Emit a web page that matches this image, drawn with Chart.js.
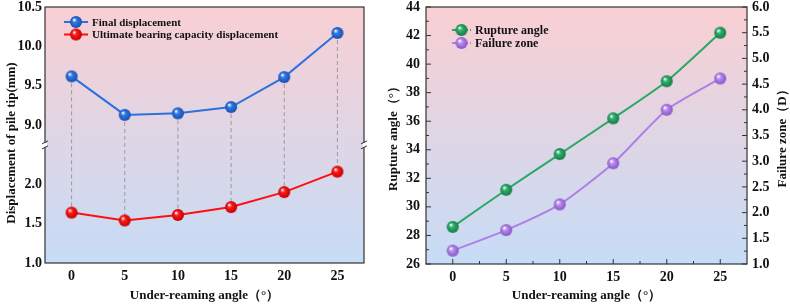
<!DOCTYPE html>
<html>
<head>
<meta charset="utf-8">
<script src="https://cdn.jsdelivr.net/npm/chart.js@4.4.0/dist/chart.umd.min.js"></script>
<style>
  html, body { margin: 0; padding: 0; background: #fff; }
  #wrap { position: relative; width: 790px; height: 305px; }
  #dispChart { position: absolute; left: 0; top: 0; }
  #ruptureChart { position: absolute; left: 380px; top: 0; }
</style>
</head>
<body>
<div id="wrap">
  <canvas id="dispChart" width="380" height="305"></canvas>
  <canvas id="ruptureChart" width="410" height="305"></canvas>
</div>
<script>
// data
const angles = [0, 5, 10, 15, 20, 25];
const finalDisp = [9.62, 9.13, 9.15, 9.23, 9.61, 10.17];
const ultimateDisp = [1.64, 1.54, 1.61, 1.71, 1.90, 2.16];
const ruptureAngle = [28.6, 31.2, 33.7, 36.2, 38.8, 42.2];
const failureZone = [1.26, 1.66, 2.16, 2.96, 4.0, 4.61];

const upperTicks = [9.0, 9.5, 10.0, 10.5];
const lowerTicks = [1.0, 1.5, 2.0];
const angleTicks = [0, 5, 10, 15, 20, 25];
const ruptureTicks = [26, 28, 30, 32, 34, 36, 38, 40, 42, 44];
const zoneTicks = [1.0, 1.5, 2.0, 2.5, 3.0, 3.5, 4.0, 4.5, 5.0, 5.5, 6.0];

const FONT = "'Liberation Serif', 'Times New Roman', serif";
const tickFont = { family: FONT, size: 14, weight: "bold" };
const titleFont = { family: FONT, size: 13, weight: "bold" };

const pts = (vals) => angles.map((a, i) => ({ x: a, y: vals[i] }));

// glossy ball markers
function sphere(color, dark, r) {
  const c = document.createElement("canvas");
  const s = r * 2 + 2;
  c.width = s; c.height = s;
  const g = c.getContext("2d");
  const grad = g.createRadialGradient(s / 2 - r * 0.35, s / 2 - r * 0.4, r * 0.05, s / 2, s / 2, r);
  grad.addColorStop(0, "#ffffff");
  grad.addColorStop(0.35, color);
  grad.addColorStop(1, dark);
  g.fillStyle = grad;
  g.beginPath();
  g.arc(s / 2, s / 2, r, 0, Math.PI * 2);
  g.fill();
  return c;
}

const blueBall = sphere("#2f78e6", "#1a4db0", 6);
const redBall = sphere("#ff1a1a", "#c00000", 6);
const greenBall = sphere("#2fb06f", "#167a44", 6);
const purpleBall = sphere("#b98ceb", "#8654c8", 6);

// chart area gradient + frame
const backdrop = {
  id: "backdrop",
  beforeDatasetsDraw(chart) {
    const { ctx, chartArea: a } = chart;
    const grad = ctx.createLinearGradient(0, a.top, 0, a.bottom);
    grad.addColorStop(0, "#f9cfd3");
    grad.addColorStop(1, "#c6dcf6");
    ctx.save();
    ctx.fillStyle = grad;
    ctx.fillRect(a.left, a.top, a.right - a.left, a.bottom - a.top);
    ctx.restore();
  },
  afterDatasetsDraw(chart) {
    const { ctx, chartArea: a } = chart;
    ctx.save();
    ctx.strokeStyle = "#333";
    ctx.lineWidth = 1.2;
    ctx.strokeRect(a.left, a.top, a.right - a.left, a.bottom - a.top);
    ctx.restore();
  }
};

// legend drawn inside the plot
const innerLegend = {
  id: "innerLegend",
  afterDraw(chart, args, opts) {
    const { ctx, chartArea: a } = chart;
    ctx.save();
    ctx.font = "bold " + opts.size + "px " + FONT;
    ctx.textBaseline = "middle";
    chart.data.datasets.forEach((ds, i) => {
      const x = a.left + opts.x;
      const y = a.top + opts.y + i * opts.gap;
      ctx.strokeStyle = ds.borderColor;
      ctx.lineWidth = 2;
      if (opts.dashed) ctx.setLineDash([4, 2]);
      ctx.beginPath();
      ctx.moveTo(x, y);
      ctx.lineTo(x + opts.len, y);
      ctx.stroke();
      ctx.setLineDash([]);
      const img = ds.pointStyle;
      ctx.drawImage(img, x + opts.len / 2 - img.width / 2, y - img.height / 2);
      ctx.fillStyle = "#111";
      ctx.fillText(ds.label, x + opts.len + 4, y + 1);
    });
    ctx.restore();
  }
};

// rotated side titles drawn by hand
function sideTitle(ctx, text, x, y) {
  ctx.save();
  ctx.fillStyle = "#111";
  ctx.font = "bold 13px " + FONT;
  ctx.textAlign = "center";
  ctx.textBaseline = "middle";
  ctx.translate(x, y);
  ctx.rotate(-Math.PI / 2);
  ctx.fillText(text, 0, 0);
  ctx.restore();
}

// dashed drop lines + axis break + y title (left panel)
const dropLines = {
  id: "dropLines",
  beforeDatasetsDraw(chart) {
    const { ctx } = chart;
    const top = chart.getDatasetMeta(0).data;
    const bottom = chart.getDatasetMeta(1).data;
    ctx.save();
    ctx.strokeStyle = "#9a9a9a";
    ctx.lineWidth = 1;
    ctx.setLineDash([4, 3]);
    top.forEach((p, i) => {
      ctx.beginPath();
      ctx.moveTo(p.x, p.y);
      ctx.lineTo(bottom[i].x, bottom[i].y);
      ctx.stroke();
    });
    ctx.restore();
  },
  afterDraw(chart) {
    const { ctx, chartArea: a } = chart;
    const yb = chart.scales.yUpper.bottom;
    ctx.save();
    ctx.strokeStyle = "#333";
    ctx.lineWidth = 1;
    [a.left, a.right].forEach((x) => {
      ctx.clearRect(x - 1, yb - 2, 2.5, 4);
      ctx.beginPath();
      ctx.moveTo(x - 3, yb - 1); ctx.lineTo(x + 3, yb - 4);
      ctx.moveTo(x - 3, yb + 4); ctx.lineTo(x + 3, yb + 1);
      ctx.stroke();
    });
    ctx.restore();
    sideTitle(ctx, "Displacement of pile tip(mm)", 12, 143);
  }
};

// inward tick marks + right title (right panel)
const innerTicks = {
  id: "innerTicks",
  afterDraw(chart) {
    const { ctx, chartArea: a, scales } = chart;
    ctx.save();
    ctx.strokeStyle = "#333";
    ctx.lineWidth = 1;
    ctx.beginPath();
    for (let v = 26; v <= 44; v += 1) {
      const y = scales.y.getPixelForValue(v);
      const len = v % 2 === 0 ? 5 : 3;
      ctx.moveTo(a.left, y); ctx.lineTo(a.left + len, y);
    }
    for (let v = 1; v <= 6.001; v += 0.25) {
      const y = scales.y1.getPixelForValue(v);
      const len = Math.abs(v * 2 - Math.round(v * 2)) < 1e-6 ? 5 : 3;
      ctx.moveTo(a.right, y); ctx.lineTo(a.right - len, y);
    }
    for (let v = 0; v <= 25; v += 2.5) {
      const x = scales.x.getPixelForValue(v);
      const len = v % 5 === 0 ? 5 : 3;
      ctx.moveTo(x, a.bottom); ctx.lineTo(x, a.bottom - len);
    }
    ctx.stroke();
    ctx.restore();
    sideTitle(ctx, "Failure zone（D）", 403, (a.top + a.bottom) / 2);
  }
};

// keep the y labels from pushing the plot top down
const noVertPad = (s, w) => { s.width = w; s.paddingTop = 0; s.paddingBottom = 0; };

const xScale = (height) => ({
  type: "linear",
  min: -2.5,
  max: 27.5,
  grid: { display: false, drawTicks: false },
  border: { display: false },
  afterBuildTicks: (s) => { s.ticks = angleTicks.map((v) => ({ value: v })); },
  afterFit: (s) => { s.height = height; },
  ticks: { font: tickFont, color: "#111", padding: 5 },
  title: {
    display: true,
    text: "Under-reaming angle（°）",
    font: titleFont,
    color: "#111",
    padding: { top: 0, bottom: 2 }
  }
});

const yGrid = { display: false, drawTicks: false };

new Chart(document.getElementById("dispChart"), {
  type: "line",
  data: {
    datasets: [
      {
        label: "Final displacement",
        data: pts(finalDisp),
        yAxisID: "yUpper",
        borderColor: "#2b72e0",
        borderWidth: 2,
        pointStyle: blueBall,
        tension: 0
      },
      {
        label: "Ultimate bearing capacity displacement",
        data: pts(ultimateDisp),
        yAxisID: "yLower",
        borderColor: "#ff0f0f",
        borderWidth: 2,
        pointStyle: redBall,
        tension: 0
      }
    ]
  },
  options: {
    responsive: false,
    animation: false,
    layout: { padding: { top: 7, right: 16, left: 0, bottom: 0 } },
    plugins: {
      legend: { display: false },
      tooltip: { enabled: false },
      innerLegend: { x: 19, y: 15, gap: 12.5, len: 24, size: 11 }
    },
    scales: {
      x: xScale(42),
      yLower: {
        type: "linear",
        position: "left",
        stack: "disp",
        stackWeight: 1.5,
        min: 1.0,
        max: 2.5,
        grid: yGrid,
        border: { display: false },
        afterBuildTicks: (s) => { s.ticks = lowerTicks.map((v) => ({ value: v })); },
        afterFit: (s) => noVertPad(s, 45),
        ticks: { font: tickFont, color: "#111", padding: 3, callback: (v) => Number(v).toFixed(1) }
      },
      yUpper: {
        type: "linear",
        position: "left",
        stack: "disp",
        stackWeight: 1.75,
        min: 8.75,
        max: 10.5,
        grid: yGrid,
        border: { display: false },
        afterBuildTicks: (s) => { s.ticks = upperTicks.map((v) => ({ value: v })); },
        afterFit: (s) => noVertPad(s, 45),
        ticks: { font: tickFont, color: "#111", padding: 3, callback: (v) => Number(v).toFixed(1) }
      }
    }
  },
  plugins: [backdrop, dropLines, innerLegend]
});

new Chart(document.getElementById("ruptureChart"), {
  type: "line",
  data: {
    datasets: [
      {
        label: "Rupture angle",
        data: pts(ruptureAngle),
        yAxisID: "y",
        borderColor: "#2aa865",
        borderWidth: 2,
        pointStyle: greenBall,
        tension: 0.2
      },
      {
        label: "Failure zone",
        data: pts(failureZone),
        yAxisID: "y1",
        borderColor: "#b07fe6",
        borderWidth: 2,
        pointStyle: purpleBall,
        tension: 0.2
      }
    ]
  },
  options: {
    responsive: false,
    animation: false,
    layout: { padding: { top: 7, right: 0, left: 0, bottom: 0 } },
    plugins: {
      legend: { display: false },
      tooltip: { enabled: false },
      innerLegend: { x: 26, y: 23, gap: 13, len: 19, size: 12, dashed: true }
    },
    scales: {
      x: xScale(41),
      y: {
        type: "linear",
        position: "left",
        min: 26,
        max: 44,
        grid: yGrid,
        border: { display: false },
        afterBuildTicks: (s) => { s.ticks = ruptureTicks.map((v) => ({ value: v })); },
        afterFit: (s) => noVertPad(s, 46),
        ticks: { font: tickFont, color: "#111", padding: 6 },
        title: { display: true, text: "Rupture angle（°）", font: titleFont, color: "#111", padding: { top: 6, bottom: 0 } }
      },
      y1: {
        type: "linear",
        position: "right",
        min: 1.0,
        max: 6.0,
        grid: yGrid,
        border: { display: false },
        afterBuildTicks: (s) => { s.ticks = zoneTicks.map((v) => ({ value: v })); },
        afterFit: (s) => noVertPad(s, 43),
        ticks: { font: tickFont, color: "#111", padding: 5, callback: (v) => Number(v).toFixed(1) }
      }
    }
  },
  plugins: [backdrop, innerTicks, innerLegend]
});
</script>
</body>
</html>
